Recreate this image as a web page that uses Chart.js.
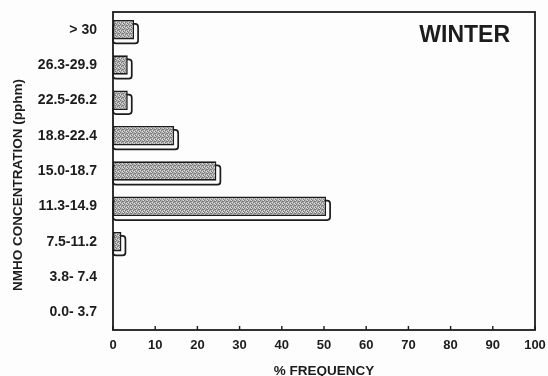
<!DOCTYPE html>
<html>
<head>
<meta charset="utf-8">
<script src="https://cdn.jsdelivr.net/npm/chart.js@4/dist/chart.umd.min.js"></script>
<style>
  html, body { margin: 0; padding: 0; background: #fdfdfd; }
  #wrap { width: 548px; height: 376px; position: relative; }
</style>
</head>
<body>
<div id="wrap"><canvas id="chart"></canvas></div>
<script>
// concentration classes, top to bottom
const ranges = ["> 30", "26.3-29.9", "22.5-26.2", "18.8-22.4", "15.0-18.7",
                "11.3-14.9", "7.5-11.2", "3.8- 7.4", "0.0- 3.7"];
// percent of winter samples in each class
const winterFreq = [5, 3.5, 3.5, 14.5, 24.5, 50.5, 2, 0, 0];
const freqTicks = [0, 10, 20, 30, 40, 50, 60, 70, 80, 90, 100];

const ink = "#1c1c1c";
const FONT = "'Liberation Sans', Arial, sans-serif";

// stippled grey fill for the bar faces
function stipple() {
  const c = document.createElement("canvas");
  c.width = 4; c.height = 4;
  const g = c.getContext("2d");
  g.fillStyle = "#aeaeae";
  g.fillRect(0, 0, 4, 4);
  g.fillStyle = "#7a7a7a";
  [[0, 0], [2, 1], [1, 2], [3, 3], [3, 1]].forEach(p => g.fillRect(p[0], p[1], 1, 1));
  g.fillStyle = "#dcdcdc";
  [[2, 3], [0, 2], [3, 0]].forEach(p => g.fillRect(p[0], p[1], 1, 1));
  return g.createPattern(c, "repeat");
}

// white extruded edge under and right of each bar
const barDepth = {
  id: "barDepth",
  beforeDatasetsDraw(chart) {
    const ctx = chart.ctx;
    const d = 4;
    chart.getDatasetMeta(0).data.forEach(bar => {
      const p = bar.getProps(["x", "y", "base", "height"], true);
      if (p.x - p.base < 0.5) return;
      const top = p.y - p.height / 2 + d, bottom = p.y + p.height / 2 + d;
      ctx.save();
      ctx.beginPath();
      ctx.roundRect(p.base, top, p.x - p.base + d, bottom - top, 3);
      ctx.fillStyle = "#fbfbfb";
      ctx.fill();
      ctx.lineWidth = 1.7;
      ctx.strokeStyle = ink;
      ctx.stroke();
      ctx.restore();
    });
  }
};

// frame, inward ticks, panel label and the rotated axis title
const frame = {
  id: "frame",
  afterDraw(chart) {
    const ctx = chart.ctx, a = chart.chartArea, xs = chart.scales.x;
    ctx.save();
    ctx.strokeStyle = ink;
    ctx.lineWidth = 1.8;
    ctx.strokeRect(a.left, a.top, a.right - a.left, a.bottom - a.top);
    ctx.lineWidth = 1.4;
    xs.ticks.forEach(t => {
      const px = xs.getPixelForValue(t.value);
      ctx.beginPath();
      ctx.moveTo(px, a.bottom);
      ctx.lineTo(px, a.bottom - 4);
      ctx.stroke();
    });
    ctx.fillStyle = ink;
    ctx.font = "bold 23px " + FONT;
    ctx.textAlign = "right";
    ctx.textBaseline = "alphabetic";
    ctx.fillText("WINTER", a.right - 25, 42);

    ctx.translate(18, 185);
    ctx.rotate(-Math.PI / 2);
    ctx.font = "bold 13.5px " + FONT;
    ctx.textAlign = "center";
    ctx.textBaseline = "middle";
    ctx.fillText("NMHO CONCENTRATION (pphm)", 0, 0);
    ctx.restore();
  }
};

new Chart(document.getElementById("chart"), {
  type: "bar",
  data: {
    labels: ranges,
    datasets: [{
      data: winterFreq,
      backgroundColor: stipple(),
      borderColor: ink,
      borderWidth: 1.6,
      borderSkipped: false,
      categoryPercentage: 1,
      barPercentage: 0.55
    }]
  },
  options: {
    indexAxis: "y",
    responsive: true,
    maintainAspectRatio: false,
    animation: false,
    layout: { padding: { left: 0, right: 13, top: 12, bottom: 0 } },
    plugins: { legend: { display: false }, tooltip: { enabled: false } },
    scales: {
      x: {
        min: 0, max: 100,
        afterBuildTicks: s => { s.ticks = freqTicks.map(v => ({ value: v })); },
        afterFit: s => { s.height = 46; s.paddingLeft = 0; s.paddingRight = 0; },
        grid: { display: false, drawTicks: false },
        border: { display: false },
        ticks: { color: ink, padding: 8, font: { family: FONT, size: 13, weight: "bold" } },
        title: {
          display: true, text: "% FREQUENCY", color: ink,
          padding: { top: 0, bottom: -3 },
          font: { family: FONT, size: 13.5, weight: "bold" }
        }
      },
      y: {
        afterFit: s => { s.width = 113; s.paddingTop = 0; s.paddingBottom = 0; },
        grid: { display: false, drawTicks: false },
        border: { display: false },
        ticks: { color: ink, padding: 16, font: { family: FONT, size: 14, weight: "bold" } }
      }
    }
  },
  plugins: [barDepth, frame]
});
</script>
</body>
</html>
